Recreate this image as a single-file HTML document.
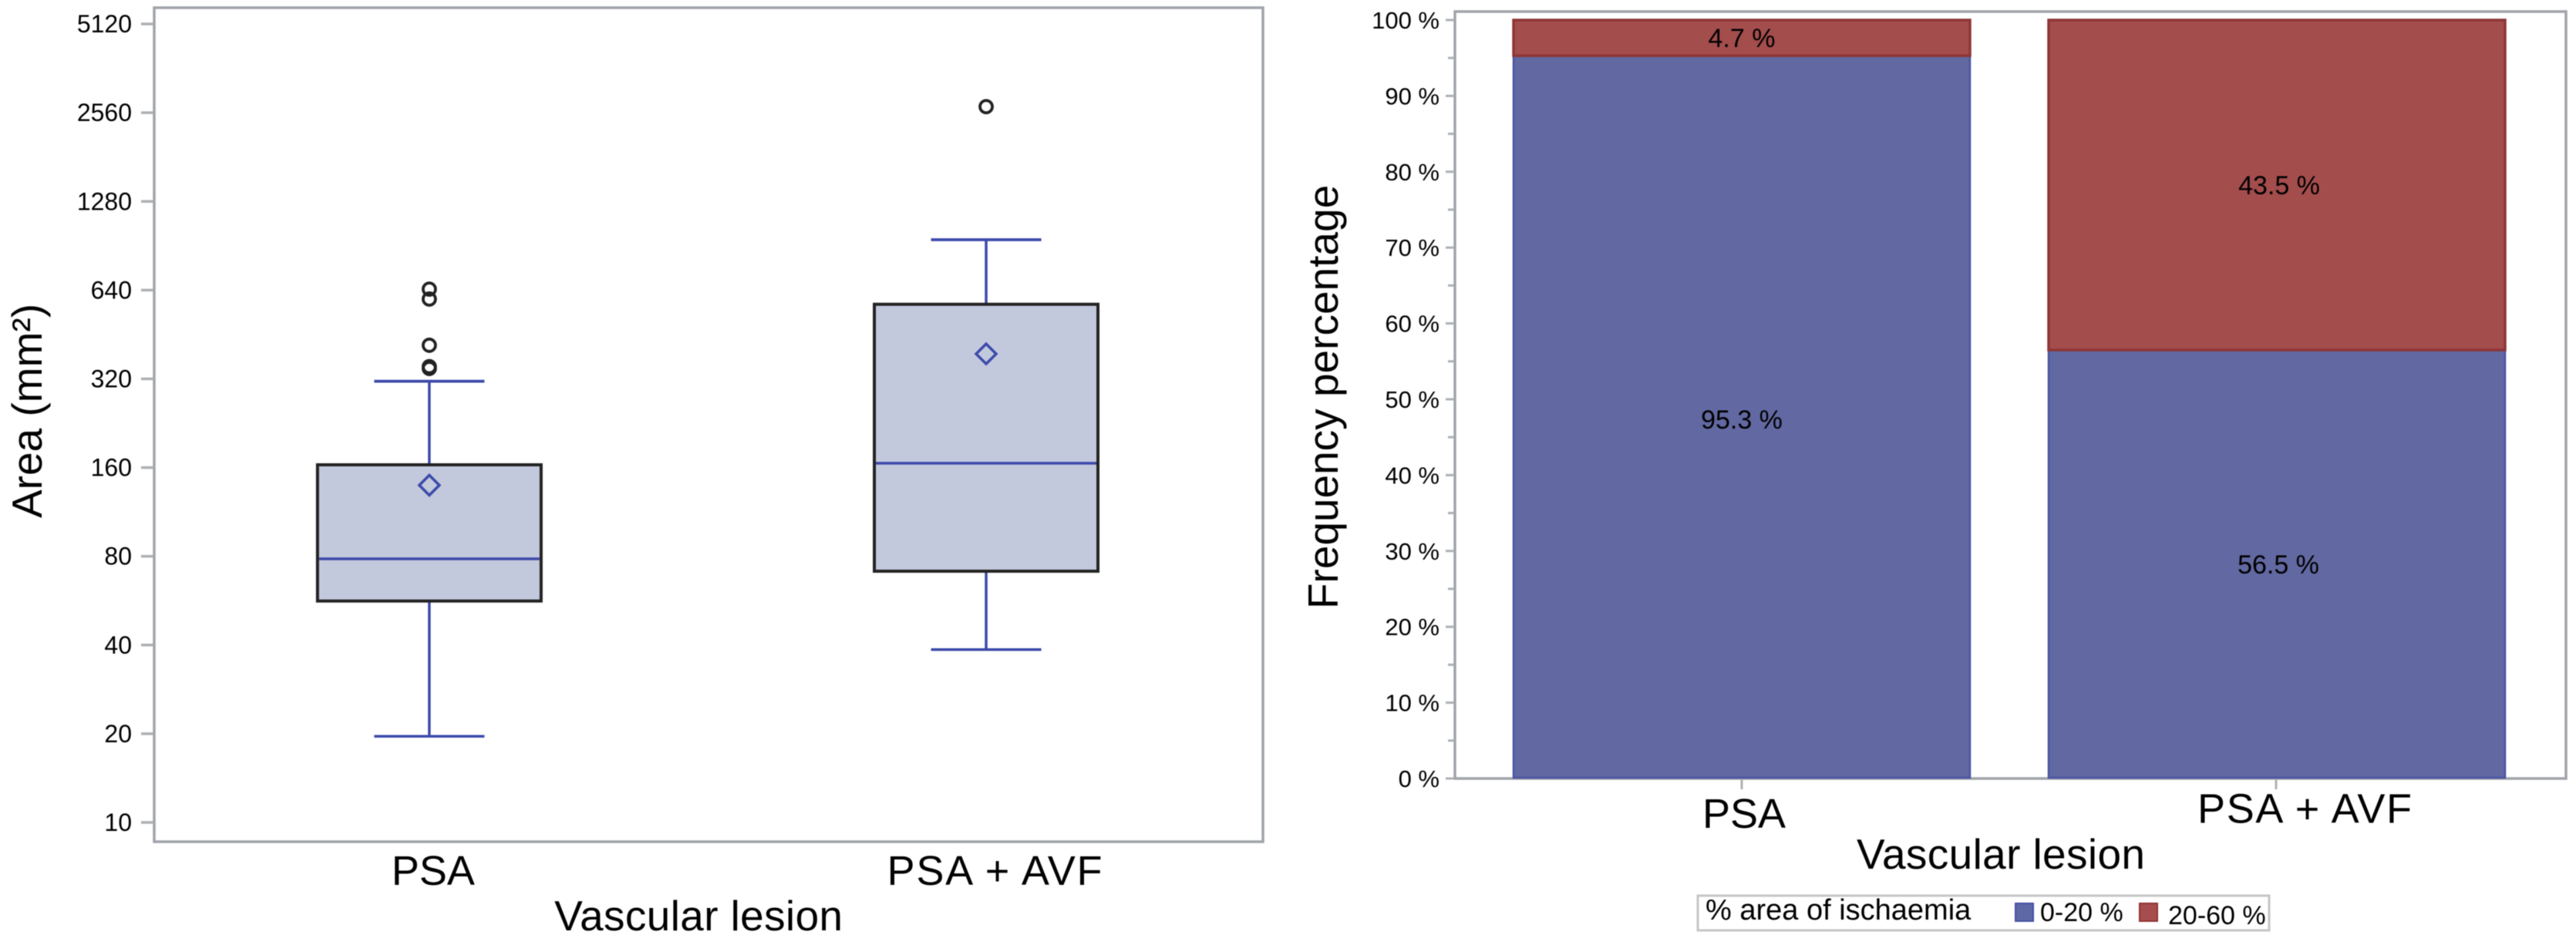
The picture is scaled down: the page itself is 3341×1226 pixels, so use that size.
<!DOCTYPE html>
<html lang="en">
<head>
<meta charset="utf-8">
<title>Vascular lesion area and ischaemia charts</title>
<style>
html,body{margin:0;padding:0;background:#fff;}
svg{display:block;filter:blur(0.6px);}
text{font-family:"Liberation Sans",sans-serif;fill:#000;}
</style>
</head>
<body>
<svg id="figure" xmlns="http://www.w3.org/2000/svg" width="3341" height="1226" viewBox="0 0 3341 1226">
  <rect x="0" y="0" width="3341" height="1226" fill="#ffffff"/>
  <g id="box-chart">
    <rect x="200" y="10" width="1438" height="1082" fill="#ffffff" stroke="#a0a3a9" stroke-width="3.5"/>
    <text transform="translate(54,533) rotate(-90)" text-anchor="middle" font-size="55">Area (mm²)</text>
    <text x="906" y="1207" text-anchor="middle" font-size="55" textLength="374" lengthAdjust="spacing">Vascular lesion</text>
  </g>
  <g id="bar-chart">
    <rect x="1887" y="15" width="1441" height="995" fill="#ffffff" stroke="#a0a3a9" stroke-width="3.5"/>
    <text transform="translate(1735,515) rotate(-90)" text-anchor="middle" font-size="55">Frequency percentage</text>
    <text x="2595" y="1127" text-anchor="middle" font-size="55" textLength="374" lengthAdjust="spacing">Vascular lesion</text>
  </g>
  <g id="legend">
    <rect x="2202" y="1162" width="741" height="45" fill="#ffffff" stroke="#c4c6c8" stroke-width="3"/>
    <text x="2212" y="1193" font-size="38">% area of ischaemia</text>
    <rect x="2614" y="1172" width="23" height="23" fill="#5f68a6" stroke="#4450a4" stroke-width="2"/>
    <text x="2646" y="1195" font-size="34">0-20 %</text>
    <rect x="2775" y="1172" width="23" height="23" fill="#a84d4d" stroke="#8f3434" stroke-width="2"/>
    <text x="2812" y="1199" font-size="34">20-60 %</text>
  </g>
</svg>
<script>
// Box plot data (area in mm2, log2 axis)
const boxCategories = ['PSA', 'PSA + AVF'];
const boxTicks = [10, 20, 40, 80, 160, 320, 640, 1280, 2560, 5120];
const boxQ1 = [56.4, 71.2];
const boxMedian = [78.4, 165.5];
const boxQ3 = [163.5, 573];
const boxWhiskerLow = [19.6, 38.6];
const boxWhiskerHigh = [314, 949];
const boxMean = [139.4, 389];
const boxOutliers = [[645, 597, 416, 352, 347], [2684]];

// Stacked bar data (percent)
const barCategories = ['PSA', 'PSA + AVF'];
const barTicks = [0, 10, 20, 30, 40, 50, 60, 70, 80, 90, 100];
const barMinorTicks = [5, 15, 25, 35, 45, 55, 65, 75, 85, 95];
const series0to20 = [95.3, 56.5];
const series20to60 = [4.7, 43.5];

const SVGNS = 'http://www.w3.org/2000/svg';
const boxRoot = document.getElementById('box-chart');
const barRoot = document.getElementById('bar-chart');

function mk(parent, tag, name, attrs, text) {
  const el = document.createElementNS(SVGNS, tag);
  
  
  for (const k in attrs) el.setAttribute(k, attrs[k]);
  if (text !== undefined) el.textContent = text;
  parent.appendChild(el);
  return el;
}

// Axis functions
function yBox(v) { return 1067 - 115.1 * Math.log2(v / 10); }
function xBox(i) { return 556.8 + 722.2 * i; }
function yBar(p) { return 1010 - 9.84 * p; }
function xBar(i) { return 2259 + 694 * i; }

const BLUE = '#3c4aaa', DARK = '#232323', AXIS = '#aeb0b3';
const BOX_W = 290, CAP_W = 143, BAR_W = 592;

// Box plot axis
boxTicks.forEach(function (t) {
  const y = yBox(t);
  mk(boxRoot, 'line', 'boxplot-y-tick-' + t, { x1: 183, x2: 199, y1: y, y2: y, stroke: AXIS, 'stroke-width': 3.5 });
  mk(boxRoot, 'text', 'boxplot-y-tick-label-' + t, { x: 171, y: y + 11, 'text-anchor': 'end', 'font-size': 32 }, String(t));
});

// Box plot marks
boxCategories.forEach(function (cat, i) {
  const cx = xBox(i);
  const key = i === 0 ? 'psa' : 'psa-avf';
  mk(boxRoot, 'line', 'whisker-high-' + key, { x1: cx, x2: cx, y1: yBox(boxWhiskerHigh[i]), y2: yBox(boxQ3[i]), stroke: BLUE, 'stroke-width': 3.5 });
  mk(boxRoot, 'line', 'whisker-low-' + key, { x1: cx, x2: cx, y1: yBox(boxQ1[i]), y2: yBox(boxWhiskerLow[i]), stroke: BLUE, 'stroke-width': 3.5 });
  mk(boxRoot, 'line', 'whisker-cap-high-' + key, { x1: cx - CAP_W / 2, x2: cx + CAP_W / 2, y1: yBox(boxWhiskerHigh[i]), y2: yBox(boxWhiskerHigh[i]), stroke: BLUE, 'stroke-width': 3.8 });
  mk(boxRoot, 'line', 'whisker-cap-low-' + key, { x1: cx - CAP_W / 2, x2: cx + CAP_W / 2, y1: yBox(boxWhiskerLow[i]), y2: yBox(boxWhiskerLow[i]), stroke: BLUE, 'stroke-width': 3.5 });
  mk(boxRoot, 'rect', 'box-' + key, { x: cx - BOX_W / 2, y: yBox(boxQ3[i]), width: BOX_W, height: yBox(boxQ1[i]) - yBox(boxQ3[i]), fill: '#c3c9dd', stroke: DARK, 'stroke-width': 4 });
  mk(boxRoot, 'line', 'median-' + key, { x1: cx - BOX_W / 2 + 2, x2: cx + BOX_W / 2 - 2, y1: yBox(boxMedian[i]), y2: yBox(boxMedian[i]), stroke: BLUE, 'stroke-width': 3.5 });
  const my = yBox(boxMean[i]);
  const pts = [[cx, my - 13], [cx + 13, my], [cx, my + 13], [cx - 13, my]].map(function (p) { return p.join(','); }).join(' ');
  mk(boxRoot, 'polygon', 'mean-marker-' + key, { points: pts, fill: 'none', stroke: BLUE, 'stroke-width': 3.5 });
  boxOutliers[i].forEach(function (v, j) {
    mk(boxRoot, 'circle', 'outlier-' + key + '-' + (j + 1), { cx: cx, cy: yBox(v), r: 8, fill: 'none', stroke: '#222222', 'stroke-width': 3.8 });
  });
  const catLabel = mk(boxRoot, 'text', 'boxplot-x-tick-label-' + key, { x: cx + 5 + 6 * i, y: 1148, 'text-anchor': 'middle', 'font-size': 54 }, cat);
  catLabel.setAttribute('textLength', i === 0 ? 108 : 279);
  catLabel.setAttribute('lengthAdjust', 'spacing');
});

// Bar chart axis
barTicks.forEach(function (t) {
  const y = yBar(t);
  mk(barRoot, 'line', 'bar-y-tick-' + t, { x1: 1875, x2: 1886, y1: y, y2: y, stroke: AXIS, 'stroke-width': 3 });
  mk(barRoot, 'text', 'bar-y-tick-label-' + t, { x: 1867, y: y + 11, 'text-anchor': 'end', 'font-size': 31 }, t + ' %');
});
barMinorTicks.forEach(function (t) {
  const y = yBar(t);
  mk(barRoot, 'line', 'bar-y-minor-tick-' + t, { x1: 1878, x2: 1886, y1: y, y2: y, stroke: AXIS, 'stroke-width': 3 });
});

// Bar chart marks
barCategories.forEach(function (cat, i) {
  const cx = xBar(i);
  const key = i === 0 ? 'psa' : 'psa-avf';
  const low = series0to20[i];
  const high = series20to60[i];
  mk(barRoot, 'rect', 'bar-0-20-' + key, { x: cx - BAR_W / 2, y: yBar(low), width: BAR_W, height: yBar(0) - yBar(low) - 1, fill: '#6268a1', stroke: '#4a54a2', 'stroke-width': 2.5 });
  mk(barRoot, 'rect', 'bar-20-60-' + key, { x: cx - BAR_W / 2, y: yBar(low + high), width: BAR_W, height: yBar(low) - yBar(low + high), fill: '#a44d4d', stroke: '#8e3636', 'stroke-width': 3.5 });
  mk(barRoot, 'text', 'bar-value-0-20-' + key, { x: cx + 2 * i, y: yBar(low / 2) + (i === 0 ? 15 : 12), 'text-anchor': 'middle', 'font-size': 34 }, low.toFixed(1) + ' %');
  mk(barRoot, 'text', 'bar-value-20-60-' + key, { x: cx + 3 * i, y: yBar(low + high / 2) + 12, 'text-anchor': 'middle', 'font-size': 34 }, high.toFixed(1) + ' %');
  mk(barRoot, 'line', 'bar-x-tick-' + key, { x1: cx - i, x2: cx - i, y1: 1011, y2: 1024, stroke: AXIS, 'stroke-width': 3 });
  const catLabel = mk(barRoot, 'text', 'bar-x-tick-label-' + key, { x: cx + 3 + 33 * i, y: 1074 - 6.5 * i, 'text-anchor': 'middle', 'font-size': 54 }, cat);
  catLabel.setAttribute('textLength', i === 0 ? 108 : 278);
  catLabel.setAttribute('lengthAdjust', 'spacing');
});
</script>
</body>
</html>
